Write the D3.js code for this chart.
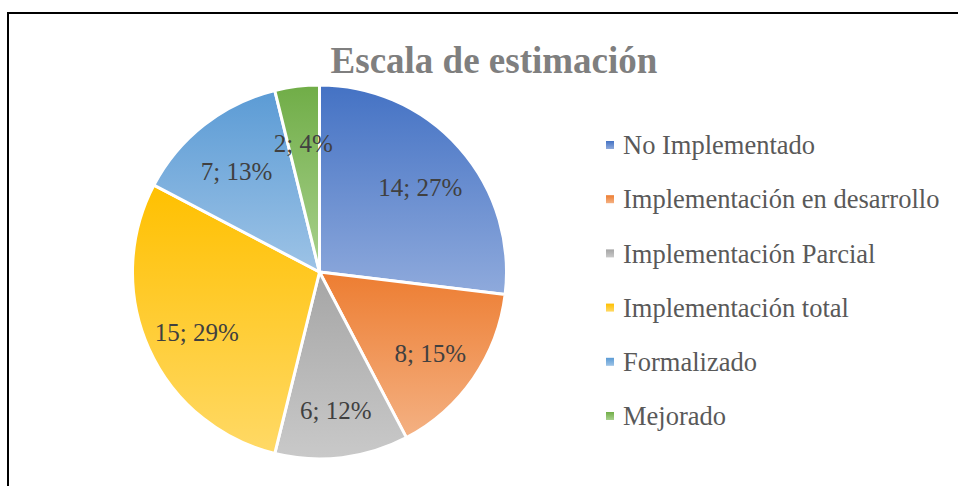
<!DOCTYPE html>
<html>
<head>
<meta charset="utf-8">
<script src="https://cdn.jsdelivr.net/npm/d3@7"></script>
<style>
  body { margin: 0; background: #fff; }
  svg text { font-family: "Liberation Serif", "Times New Roman", serif; }
</style>
</head>
<body>
<div id="chart"></div>
<script>
// data
const categories = ["No Implementado", "Implementación en desarrollo", "Implementación Parcial",
                    "Implementación total", "Formalizado", "Mejorado"];
const values = [14, 8, 6, 15, 7, 2];
const percents = [27, 15, 12, 29, 13, 4];
const topColors = ["#4472C4", "#ED7D31", "#A5A5A5", "#FFC000", "#5B9BD5", "#70AD47"];
const bottomColors = ["#8FAADC", "#F4B183", "#C9C9C9", "#FFD966", "#9DC3E6", "#A9D18E"];

const width = 958, height = 486;
const cx = 319.5, cy = 272, radius = 187;

const svg = d3.select("#chart").append("svg")
    .attr("width", width)
    .attr("height", height);

// frame: only top and left edges are in view
svg.append("line")
    .attr("x1", 8).attr("x2", width).attr("y1", 13).attr("y2", 13)
    .attr("stroke", "#000").attr("stroke-width", 2);
svg.append("line")
    .attr("x1", 8).attr("x2", 8).attr("y1", 12).attr("y2", height)
    .attr("stroke", "#000").attr("stroke-width", 2);

// gradients, one per category
const defs = svg.append("defs");
categories.forEach((c, i) => {
    const g = defs.append("linearGradient")
        .attr("id", "grad" + i)
        .attr("x1", 0).attr("y1", 0).attr("x2", 0).attr("y2", 1);
    g.append("stop").attr("offset", "0%").attr("stop-color", topColors[i]);
    g.append("stop").attr("offset", "100%").attr("stop-color", bottomColors[i]);
});

svg.append("text")
    .attr("x", 494)
    .attr("y", 73)
    .attr("text-anchor", "middle")
    .attr("font-size", 37)
    .attr("font-weight", "bold")
    .attr("fill", "#7F7F7F")
    .text("Escala de estimación");

const pie = d3.pie().sort(null).value(d => d.value);
const arc = d3.arc().innerRadius(0).outerRadius(radius);
const labelArc = d3.arc().innerRadius(radius * 0.72).outerRadius(radius * 0.72);

const data = categories.map((c, i) => ({name: c, value: values[i], pct: percents[i], i: i}));
const arcs = pie(data);

const g = svg.append("g").attr("transform", `translate(${cx},${cy})`);

g.selectAll("path.slice")
    .data(arcs)
    .enter()
    .append("path")
    .attr("class", "slice")
    .attr("d", arc)
    .attr("fill", d => `url(#grad${d.data.i})`)
    .attr("stroke", "#fff")
    .attr("stroke-width", 3)
    .attr("stroke-linejoin", "round");

g.selectAll("text.lbl")
    .data(arcs)
    .enter()
    .append("text")
    .attr("class", "lbl")
    .attr("transform", d => `translate(${labelArc.centroid(d)})`)
    .attr("text-anchor", "middle")
    .attr("dy", "0.55em")
    .attr("font-size", 25)
    .attr("fill", "#404040")
    .text(d => `${d.data.value}; ${d.data.pct}%`);

// legend
const legendY = d3.scalePoint()
    .domain(categories)
    .range([145, 416]);

const items = svg.append("g").selectAll("g")
    .data(data)
    .enter()
    .append("g")
    .attr("transform", d => `translate(606,${legendY(d.name)})`);

items.append("rect")
    .attr("x", 0).attr("y", -4)
    .attr("width", 8).attr("height", 8)
    .attr("fill", d => `url(#grad${d.i})`);

items.append("text")
    .attr("x", 17)
    .attr("dy", "0.35em")
    .attr("font-size", 26.5)
    .attr("fill", "#595959")
    .text(d => d.name);
</script>
</body>
</html>
